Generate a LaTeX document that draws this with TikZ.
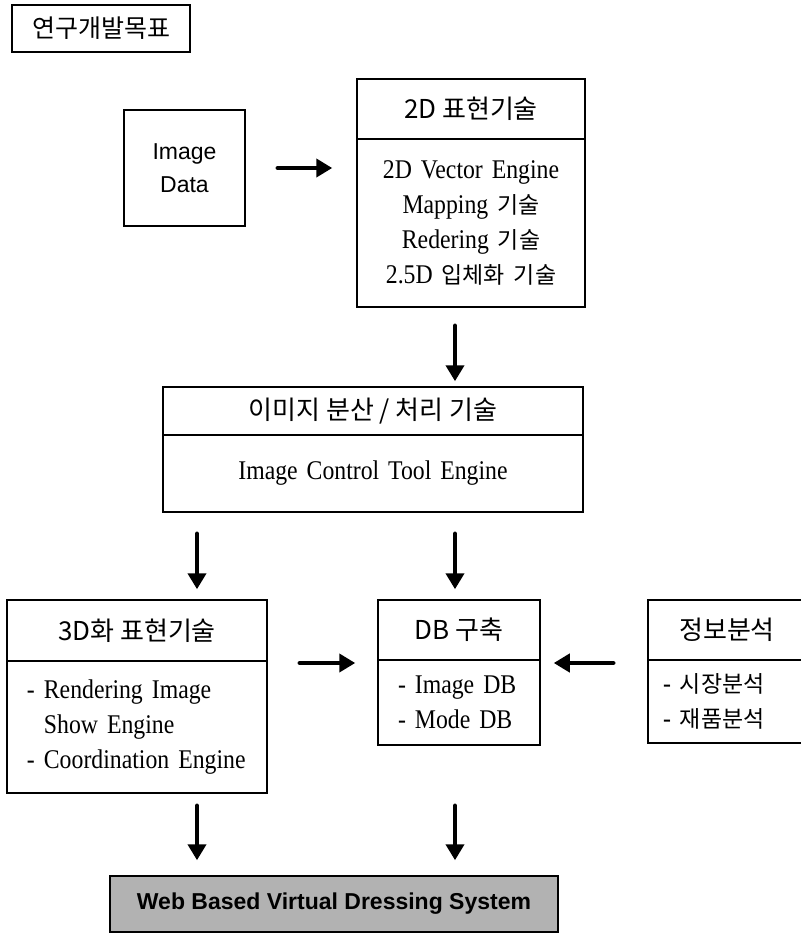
\documentclass[tikz,border=0pt]{standalone}
\usepackage{fontspec}
\setmainfont{Liberation Serif}[WordSpace=1.5, FakeStretch=0.88]
\newfontfamily\kr{Noto Sans CJK KR}
\newfontfamily\krsmall{Noto Sans CJK KR}[Scale=0.85]
\newfontfamily\latinsans{Liberation Sans}
\newcommand\krtext[1]{{\krsmall #1}}
\usetikzlibrary{arrows.meta}

\begin{document}
\begin{tikzpicture}[x=1pt,y=-1pt,
  frame/.style={draw, line width=1.5pt, inner sep=0pt},
  head/.style={frame, font=\kr\fontsize{26pt}{30pt}\selectfont},
  bodytext/.style={frame, font=\fontsize{27pt}{35pt}\selectfont},
  arr/.style={line width=4.5pt, line cap=round, -{Triangle[length=16pt,width=18pt]}},
]
\useasboundingbox (0,0) rectangle (801,935);

% title tag
\node[frame, font=\kr\fontsize{25pt}{30pt}\selectfont, minimum width=178pt, minimum height=47pt] (goal) at (101,28.5) {연구개발목표};

% input
\node[frame, font=\latinsans\fontsize{23pt}{33pt}\selectfont, align=center,
      minimum width=121pt, minimum height=116pt] (img) at (184.5,168) {Image\\Data};

% 2D
\node[head, minimum width=228pt, minimum height=60pt] (twodh) at (471,109) {2D 표현기술};
\node[bodytext, align=center, minimum width=228pt, minimum height=168pt] (twod) at (471,223)
  {2D Vector Engine\\Mapping \krtext{기술}\\Redering \krtext{기술}\\2.5D \krtext{입체화} \krtext{기술}};

% image distribution / processing
\node[head, minimum width=420pt, minimum height=48pt] (ich) at (373,411) {이미지 분산 / 처리 기술};
\node[bodytext, minimum width=420pt, minimum height=77pt] (ic) at (373,473.5) {Image Control Tool Engine};

% 3D
\node[head, minimum width=260pt, minimum height=61pt] (threeh) at (137,630.5) {3D화 표현기술};
\node[bodytext, align=left, inner xsep=20pt, text width=220pt, minimum height=132pt] (three) at (137,727)
  {- Rendering Image\\\phantom{-\ }Show Engine\\- Coordination Engine};

% DB
\node[head, minimum width=162pt, minimum height=60pt] (dbh) at (459,630) {DB 구축};
\node[bodytext, align=left, inner xsep=20pt, text width=122pt, minimum height=85pt] (db) at (459,702.5)
  {- Image DB\\- Mode DB};

% information analysis
\node[head, minimum width=158pt, minimum height=60pt] (infoh) at (727,630) {정보분석};
\node[bodytext, align=left, inner xsep=15pt, text width=128pt, minimum height=83pt] (info) at (727,701.5)
  {- \krtext{시장분석}\\- \krtext{재품분석}};

% result
\node[frame, fill=black!30, font=\latinsans\bfseries\fontsize{23pt}{26pt}\selectfont,
      minimum width=448pt, minimum height=56pt] (web) at (334,904) {Web Based Virtual Dressing System};

% arrow columns and row
\coordinate (lcol) at (197,0);
\coordinate (rcol) at (455,0);
\coordinate (midrow) at (0,663);

\draw[arr, shorten <=32pt, shorten >=24pt] (img.east) -- (img.east -| twod.west);
\draw[arr, shorten <=18pt, shorten >=5pt] (twod.south -| rcol) -- (ich.north -| rcol);
\draw[arr, shorten <=21pt, shorten >=10pt] (ic.south -| lcol) -- (threeh.north -| lcol);
\draw[arr, shorten <=21pt, shorten >=10pt] (ic.south -| rcol) -- (dbh.north -| rcol);
\draw[arr, shorten <=32pt, shorten >=22pt] (threeh.east |- midrow) -- (dbh.west |- midrow);
\draw[arr, shorten <=34pt, shorten >=13pt] (infoh.west |- midrow) -- (dbh.east |- midrow);
\draw[arr, shorten <=12pt, shorten >=15pt] (three.south -| lcol) -- (web.north -| lcol);
\draw[arr, shorten <=60pt, shorten >=15pt] (db.south -| rcol) -- (web.north -| rcol);
\end{tikzpicture}
\end{document}
